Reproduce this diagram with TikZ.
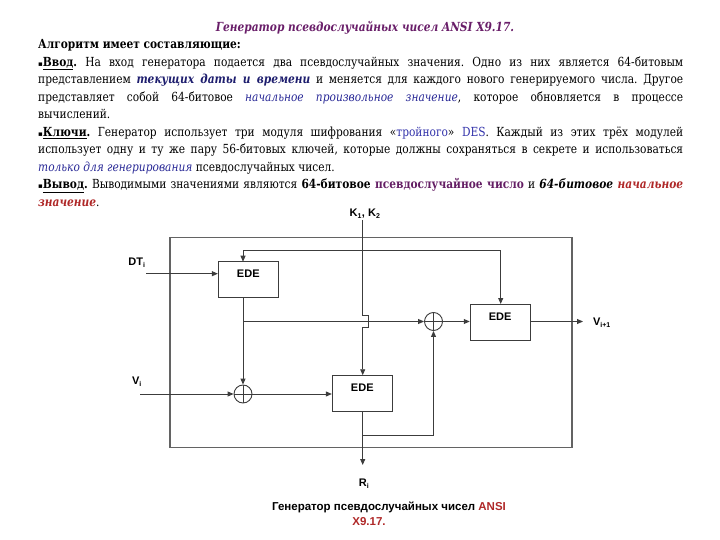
\documentclass[tikz,border=0pt]{standalone}
\usepackage{fontspec}
\setmainfont{DejaVu Serif}[FakeStretch=0.85]
\newfontfamily\diagfont{Liberation Sans}
\newfontfamily\symfont{DejaVu Sans}
\usetikzlibrary{arrows.meta}
\definecolor{titlec}{RGB}{105,30,105}
\definecolor{dblue}{RGB}{30,30,110}
\definecolor{iblue}{RGB}{40,40,150}
\definecolor{lblue}{RGB}{50,50,170}
\definecolor{purp}{RGB}{100,30,100}
\definecolor{redc}{RGB}{175,40,40}
\definecolor{linec}{RGB}{60,60,60}
\newcommand{\mybul}{{\symfont\fontsize{7}{7}\selectfont ▪}}
\newcommand{\mysub}[1]{{\fontsize{10}{12}\selectfont\textsubscript{#1}}}
\begin{document}
\frenchspacing
\begin{tikzpicture}[x=1pt,y=-1pt,
  ln/.style={draw=linec, line width=0.9pt},
  arr/.style={ln, -{Triangle[length=6pt,width=5pt]}},
  edebox/.style={draw=linec, line width=0.9pt, minimum width=60pt, minimum height=36pt, inner sep=0pt},
  xorc/.style={circle, draw=linec, line width=0.9pt, minimum size=18pt, inner sep=0pt,
     path picture={\draw[linec, line width=0.8pt] (path picture bounding box.north) -- (path picture bounding box.south)
       (path picture bounding box.west) -- (path picture bounding box.east);}},
  lab/.style={font=\diagfont\bfseries\fontsize{11}{13}\selectfont, inner sep=0pt},
  frame/.style={draw=linec!80, line width=1.3pt}
]
\useasboundingbox (0,0) rectangle (720,540);

% title
\node[font=\bfseries\itshape\fontsize{12.5}{14}\selectfont, text=titlec] (title) at (365,28) {Генератор псевдослучайных чисел ANSI X9.17.};

% body text
\node[anchor=north west, inner sep=0pt, text width=645pt, align=justify,
  font=\fontsize{12.5}{17.5}\selectfont] (body) at (38,39.5) {%
\textbf{Алгоритм имеет составляющие:}\par
\mybul\textbf{\underline{Ввод}.} На вход генератора подается два псевдослучайных значения. Одно из них является 64-битовым\linebreak
представлением \textcolor{dblue}{\textbf{\textit{текущих даты и времени}}} и меняется для каждого нового генерируемого числа. Другое\linebreak
представляет собой 64-битовое \textcolor{iblue}{\textit{начальное произвольное значение}}, которое обновляется в процессе\linebreak
вычислений.\par
\mybul\textbf{\underline{Ключи}.} Генератор использует три модуля шифрования «\textcolor{lblue}{тройного}» \textcolor{lblue}{DES}. Каждый из этих трёх модулей\linebreak
использует одну и ту же пару 56-битовых ключей, которые должны сохраняться в секрете и использоваться\linebreak
\textcolor{iblue}{\textit{только для генерирования}} псевдослучайных чисел.\par
\mybul\textbf{\underline{Вывод}.} Выводимыми значениями являются \textbf{64-битовое \textcolor{purp}{псевдослучайное число}} и \textbf{\textit{64-битовое \textcolor{redc}{начальное\linebreak
значение}}}.};

% frame
\draw[frame] (170,237.7) rectangle (572,447.7);

% blocks
\node[edebox] (ede1) at (248.3,279.7) {};
\node[lab] (ede1t) at (248.3,274) {EDE};
\node[edebox] (ede2) at (362.3,393.7) {};
\node[lab] (ede2t) at (362.3,388) {EDE};
\node[edebox] (ede3) at (500.2,322) {};
\node[lab] (ede3t) at (500.2,316.7) {EDE};
\node[xorc] (xor1) at (433.5,321.5) {};
\node[xorc] (xor2) at (243,394) {};

% labels
\node[lab] (dt) at (137,263) {DT\mysub{i}};
\node[lab] (vi) at (137,382) {V\mysub{i}};
\node[lab] (k) at (365,214) {K\mysub{1}, K\mysub{2}};
\node[lab] (vout) at (602,323) {V\mysub{i+1}};
\node[lab] (ri) at (364,484) {R\mysub{i}};
\node[font=\diagfont\bfseries\fontsize{11.5}{13}\selectfont, inner sep=0pt] (cap1) at (389,507) {Генератор псевдослучайных чисел \textcolor{redc}{ANSI}};
\node[font=\diagfont\bfseries\fontsize{11.5}{13}\selectfont, inner sep=0pt, text=redc] (cap2) at (369,522) {X9.17.};

% coordinates
\coordinate (dtin) at (146,273.7);
\coordinate (viin) at (140,394);
\coordinate (ktop) at (362.7,220);
\coordinate (kj) at (362.7,250);
\coordinate (e1top) at (243,261.7);
\coordinate (e1bot) at (243,297.7);
\coordinate (j1) at (243,321.5);
\coordinate (e3top) at (500.7,304);
\coordinate (rout) at (362.7,465);
\coordinate (j2) at (362.7,435.7);
\coordinate (voutc) at (583,321.5);

% connectors
\draw[arr] (dtin) -- (dtin -| ede1.west);
\draw[ln] (ktop) -- (362.7,315.7) -- (368,315.7) -- (368,327.7) -- (362.7,327.7) -- (362.7,340);
\draw[arr] (362.7,340) -- (ede2.north -| kj);
\draw[arr] (kj) -| (e1top);
\draw[arr] (kj) -| (e3top);
\draw[arr] (e1bot) -- (xor2.north);
\draw[arr] (j1) -- (xor1.west);
\draw[arr] (viin) -- (xor2.west);
\draw[arr] (xor2.east) -- (ede2.west |- xor2.east);
\draw[arr] (xor1.east) -- (ede3.west |- xor1.east);
\draw[arr] (ede3.east |- voutc) -- (voutc);
\draw[arr] (ede2.south -| rout) -- (rout);
\draw[arr] (j2) -| (xor1.south);
\end{tikzpicture}
\end{document}
